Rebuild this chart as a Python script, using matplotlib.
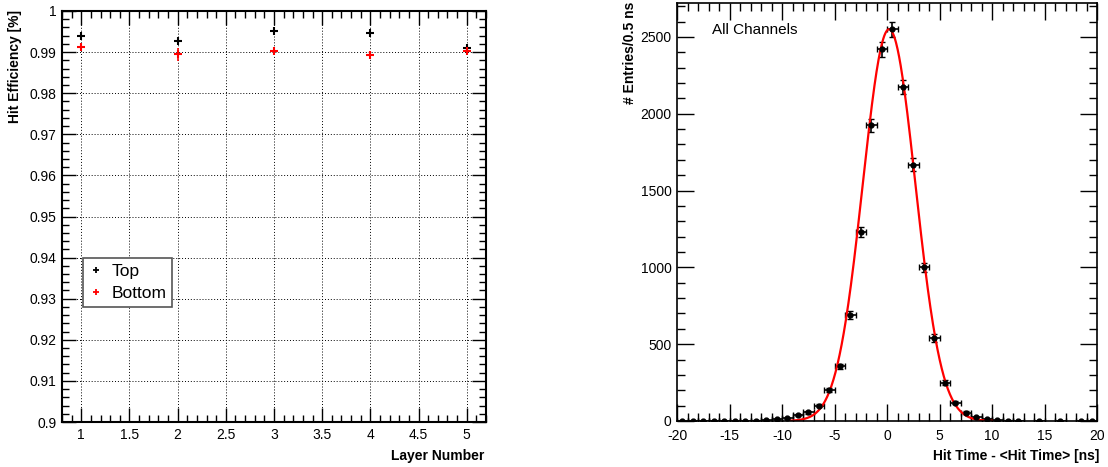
import numpy as np
from matplotlib import pyplot as plt
from matplotlib.lines import Line2D
from matplotlib.ticker import MultipleLocator, FormatStrFormatter

plt.rcParams['font.family'] = ['Liberation Sans', 'DejaVu Sans']
plt.rcParams['axes.unicode_minus'] = False

# ---------------- efficiency per layer --------------------------------
layers = [1, 2, 3, 4, 5]
eff_top = [0.9940, 0.9928, 0.9951, 0.9946, 0.9910]
eff_top_err = [0.0003, 0.0009, 0.0005, 0.0003, 0.0004]
eff_bottom = [0.9912, 0.9895, 0.9902, 0.9894, 0.9902]
eff_bottom_err = [0.0007, 0.0016, 0.0009, 0.0005, 0.0008]

# ---------------- hit time residuals (1 ns bins) ---------------------
time_centers = [-19.5, -18.5, -17.5, -16.5, -15.5, -14.5, -13.5, -12.5, -11.5, -10.5,
                -9.5, -8.5, -7.5, -6.5, -5.5, -4.5, -3.5, -2.5, -1.5, -0.5,
                0.5, 1.5, 2.5, 3.5, 4.5, 5.5, 6.5, 7.5, 8.5, 9.5,
                10.5, 11.5, 12.5, 14.5, 16.5, 18.5, 19.5]
time_counts = [1, 1, 1, 1, 1, 1, 1, 2, 4, 11,
               18, 40, 56, 100, 202, 355, 690, 1230, 1925, 2420,
               2550, 2175, 1668, 1000, 540, 250, 120, 55, 24, 10,
               5, 2, 1, 1, 1, 1, 1]
# gaussian fit parameters (constant, mean, sigma) and fit range
fit_const, fit_mean, fit_sigma = 2550.0, 0.2, 2.5
fit_range = (-9.5, 10.0)

fig = plt.figure(figsize=(11.08, 4.67), dpi=100)

def root_style(ax, major_len=10, minor_len=5):
    ax.tick_params(which='both', direction='in', top=True, right=True,
                   labelsize=10, pad=4, width=1)
    ax.tick_params(which='major', length=major_len)
    ax.tick_params(which='minor', length=minor_len)
    for sp in ax.spines.values():
        sp.set_linewidth(1.5)

# Left: hit efficiency
ax1 = fig.add_axes([62 / 1108, 45 / 467, 424 / 1108, 411 / 467])
ax1.errorbar(layers, eff_top, yerr=eff_top_err, fmt='+', color='black',
             ms=6, mew=1.5, elinewidth=1.2, capsize=0)
ax1.errorbar(layers, eff_bottom, yerr=eff_bottom_err, fmt='+', color='red',
             ms=6, mew=1.5, elinewidth=1.2, capsize=0)
ax1.set_xlim(0.8, 5.2)
ax1.set_ylim(0.9, 1.0)
ax1.xaxis.set_major_locator(MultipleLocator(0.5))
ax1.xaxis.set_minor_locator(MultipleLocator(0.1))
ax1.yaxis.set_major_locator(MultipleLocator(0.01))
ax1.yaxis.set_minor_locator(MultipleLocator(0.002))
ax1.xaxis.set_major_formatter(FormatStrFormatter('%g'))
ax1.yaxis.set_major_formatter(plt.FuncFormatter(lambda v, p: f'{v:.2f}'.rstrip('0').rstrip('.')))
ax1.grid(True, which='major', linestyle=(0, (1, 2)), color='black', linewidth=0.7)
root_style(ax1)

handles = [Line2D([], [], marker='+', color='black', ls='none', ms=5, mew=1.3),
           Line2D([], [], marker='+', color='red', ls='none', ms=5, mew=1.3)]
leg = ax1.legend(handles, ['Top', 'Bottom'], loc='upper left',
                 bbox_to_anchor=(0.049, 0.40), fontsize=12.5, frameon=True,
                 fancybox=False, edgecolor='#555555', framealpha=1,
                 handlelength=0.8, handletextpad=0.5, borderpad=0.35,
                 labelspacing=0.4, borderaxespad=0)
leg.get_frame().set_linewidth(1.2)

fig.text(15 / 1108, 1 - 10 / 467, 'Hit Efficiency [%]', rotation=90,
         ha='center', va='top', fontsize=10, fontweight='bold')
fig.text(484 / 1108, 1 - 456 / 467, 'Layer Number', ha='right', va='center',
         fontsize=10, fontweight='bold')

# Right: hit time distribution
ax2 = fig.add_axes([677 / 1108, 46 / 467, 420 / 1108, 418 / 467])
counts = np.array(time_counts, dtype=float)
ax2.errorbar(time_centers, counts, xerr=0.5, yerr=np.sqrt(counts), fmt='o',
             color='black', ms=3.5, elinewidth=1.2, capsize=2, capthick=1.0)
xf = np.linspace(fit_range[0], fit_range[1], 400)
ax2.plot(xf, fit_const * np.exp(-0.5 * ((xf - fit_mean) / fit_sigma) ** 2),
         color='red', lw=1.6)
ax2.set_xlim(-20, 20)
ax2.set_ylim(0, 2721)
ax2.xaxis.set_major_locator(MultipleLocator(5))
ax2.xaxis.set_minor_locator(MultipleLocator(1))
ax2.yaxis.set_major_locator(MultipleLocator(500))
ax2.yaxis.set_minor_locator(MultipleLocator(100))
root_style(ax2, major_len=12, minor_len=6)
ax2.tick_params(axis='x', pad=5.5)
for sp in ax2.spines.values():
    sp.set_linewidth(1.2)
ax2.text(0.083, 0.935, 'All Channels', transform=ax2.transAxes,
         ha='left', va='center', fontsize=11)

fig.text(630 / 1108, 1 - 2 / 467, '# Entries/0.5 ns', rotation=90,
         ha='center', va='top', fontsize=10, fontweight='bold')
fig.text(1099 / 1108, 1 - 456 / 467, 'Hit Time - <Hit Time> [ns]', ha='right',
         va='center', fontsize=10, fontweight='bold')

fig.savefig('out.png', dpi=100)
